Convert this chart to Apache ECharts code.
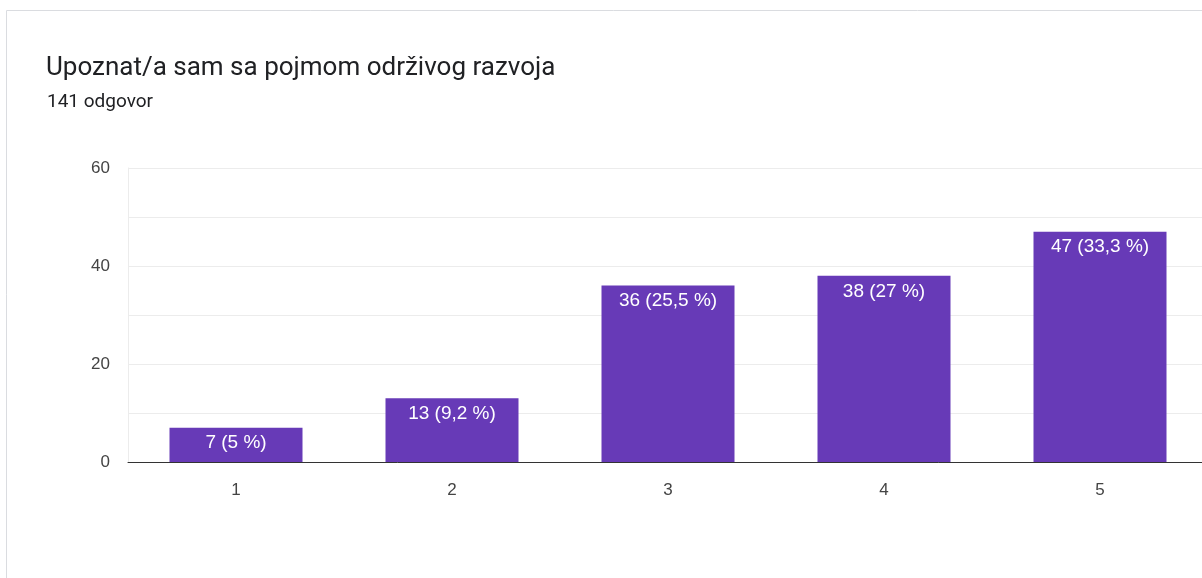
<!DOCTYPE html>
<html>
<head>
<meta charset="utf-8">
<script src="https://cdn.jsdelivr.net/npm/echarts@6/dist/echarts.min.js"></script>
<style>
  html, body { margin: 0; padding: 0; background: #fff; overflow: hidden; }
  #chart { width: 1220px; height: 578px; }
</style>
</head>
<body>
<div id="chart"></div>
<script>
var categories = ["1", "2", "3", "4", "5"];
var counts = [7, 13, 36, 38, 47];
var percents = ["5", "9,2", "25,5", "27", "33,3"];
var yTicks = [0, 20, 40, 60];

var myChart = echarts.init(document.getElementById("chart"));
myChart.setOption({
  animation: false,
  graphic: [
    {
      // card border
      type: "rect",
      shape: { x: 6.5, y: 10.5, width: 1300, height: 700 },
      style: { fill: "none", stroke: "#dadce0", lineWidth: 1 }
    },
    {
      type: "text",
      left: 46,
      top: 55,
      style: {
        text: "Upoznat/a sam sa pojmom održivog razvoja",
        font: "400 26px Roboto",
        fill: "#202124"
      }
    },
    {
      type: "text",
      left: 47,
      top: 93,
      style: {
        text: "141 odgovor",
        font: "400 19px Roboto",
        fill: "#202124"
      }
    }
  ],
  grid: {
    left: 128,
    top: 168,
    width: 1080,
    bottom: 116
  },
  xAxis: {
    type: "category",
    data: categories,
    axisTick: { show: false },
    axisLine: { lineStyle: { color: "#333", width: 1 } },
    axisLabel: {
      color: "#444",
      fontSize: 17,
      fontFamily: "Liberation Sans",
      margin: 20
    }
  },
  yAxis: {
    type: "value",
    min: 0,
    max: 60,
    interval: 10,
    axisLine: { show: true, lineStyle: { color: "#ececec" } },
    axisTick: { show: false },
    splitLine: { lineStyle: { color: "#ececec" } },
    axisLabel: {
      color: "#444",
      fontSize: 17,
      fontFamily: "Liberation Sans",
      margin: 18,
      formatter: function (v) {
        return yTicks.indexOf(v) >= 0 ? String(v) : "";
      }
    }
  },
  series: [
    {
      type: "bar",
      data: counts,
      barWidth: 133,
      itemStyle: { color: "#673ab7" },
      label: {
        show: true,
        position: "insideTop",
        distance: 6,
        color: "#fff",
        fontSize: 19,
        fontFamily: "Liberation Sans",
        formatter: function (p) {
          return p.value + " (" + percents[p.dataIndex] + " %)";
        }
      }
    }
  ]
});
</script>
</body>
</html>
